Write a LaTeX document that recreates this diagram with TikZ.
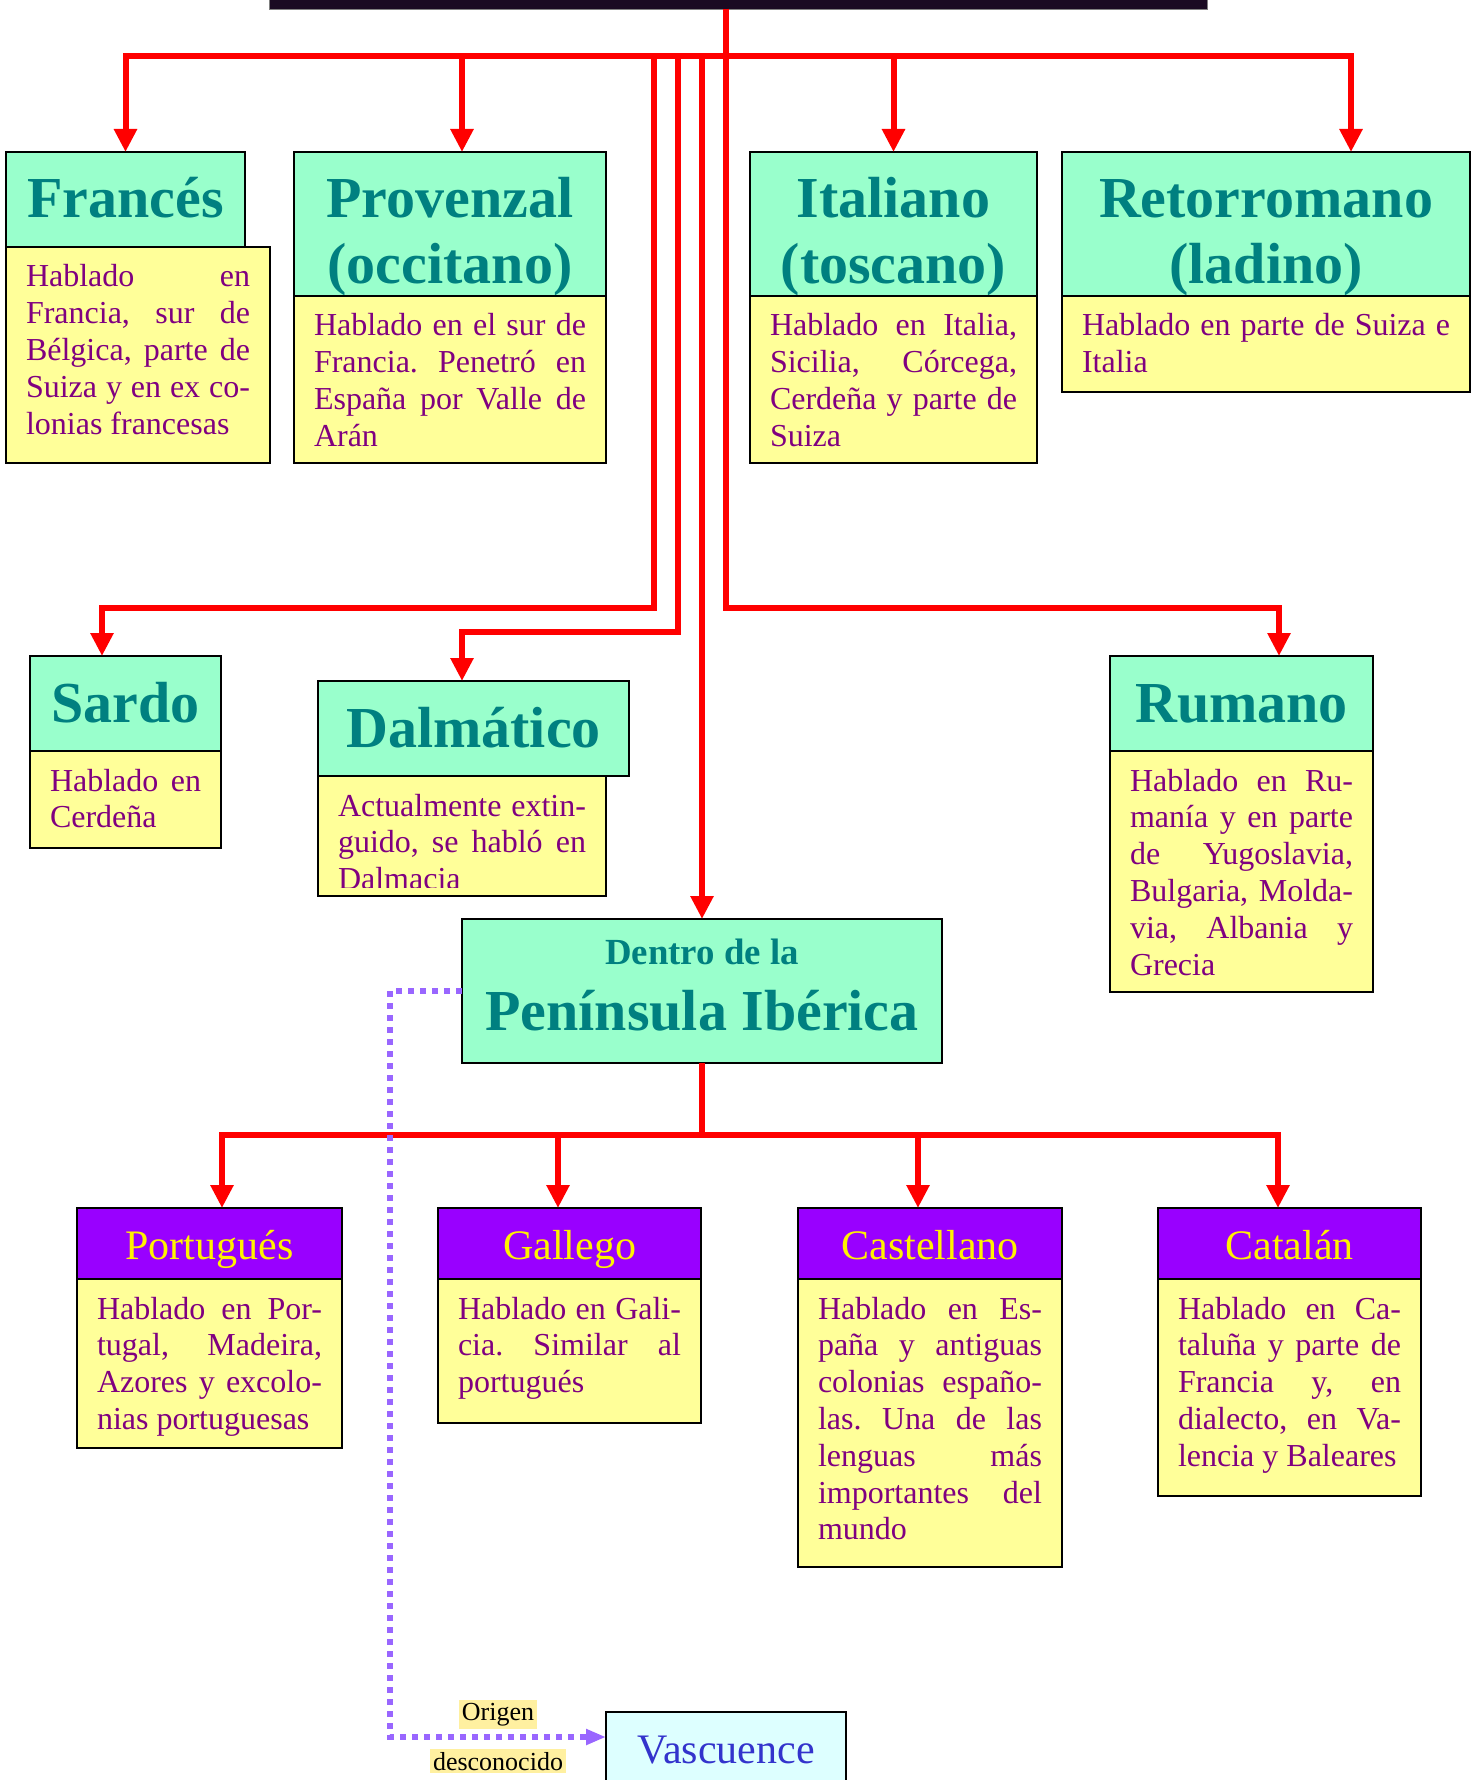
\documentclass[tikz,border=0pt]{standalone}
\usepackage{fontspec}
\setmainfont{Liberation Serif}
\usetikzlibrary{arrows.meta}
\frenchspacing

\definecolor{mint}{HTML}{99FFCC}
\definecolor{tealtext}{HTML}{008080}
\definecolor{paleyellow}{HTML}{FFFF99}
\definecolor{plum}{HTML}{800080}
\definecolor{ibviolet}{HTML}{9900FF}
\definecolor{basqueblue}{HTML}{3333CC}
\definecolor{basquefill}{HTML}{DDFFFF}
\definecolor{dotlilac}{HTML}{9966FF}
\definecolor{tagyellow}{HTML}{FFF0A0}
\definecolor{rootdark}{HTML}{1A0A22}

% box contents: width, height, text (top aligned)
\newcommand{\heading}[4][33pt]{\parbox[c][#3][t]{#2}{\centering\rule{0pt}{#1}#4}}
\newcommand{\blurb}[3]{\parbox[c][#2][t]{#1}{\tolerance=10000\hbadness=10000\hyphenpenalty=10000\rule{0pt}{20pt}#3}}

\begin{document}
\begin{tikzpicture}[x=0.5pt, y=-0.5pt,
    every node/.style={outer sep=0pt},
    rootbar/.style={draw=gray, fill=rootdark, minimum width=469pt, minimum height=50pt, inner sep=0pt},
    langhead/.style={draw, line width=1pt, fill=mint, text=tealtext, inner sep=0pt, anchor=north west, font=\fontsize{29}{33}\selectfont\bfseries},
    langnote/.style={draw, line width=1pt, fill=paleyellow, text=plum, inner xsep=10pt, inner ysep=0pt, anchor=north west, font=\fontsize{16}{18.4}\selectfont},
    ibhead/.style={draw, line width=1pt, fill=ibviolet, text=yellow, inner sep=0pt, text height=25.5pt, text depth=10pt, anchor=north west, font=\fontsize{21}{24}\selectfont},
    basque/.style={draw, line width=1pt, fill=basquefill, text=basqueblue, inner sep=0pt, minimum width=120pt, text height=25.5pt, text depth=10.5pt, anchor=north west, font=\fontsize{21}{24}\selectfont},
    redarrow/.style={draw=red, line width=3pt, -{Triangle[length=11.5pt,width=11pt]}},
    dotarrow/.style={draw=dotlilac, line width=3pt, dash pattern=on 3pt off 3pt, -{Triangle[length=10pt,width=7.5pt]}},
    origintag/.style={fill=tagyellow, text=black, inner sep=1.5pt, font=\fontsize{13}{15}\selectfont}]
    \useasboundingbox (0,0) rectangle (1479,1780);
    \clip (0,0) rectangle (1479,1780);

    \node [rootbar, anchor=south west] (root) at (269,9) {};

    % first row
    \node [langhead] (fr) at (6,152) {\heading{119.5pt}{47.5pt}{Francés}};
    \node [langnote] (fr-d) at (fr.south west) {\blurb{112pt}{108pt}{Hablado en\linebreak Francia, sur de\linebreak Bélgica, parte de\linebreak Suiza y en ex co-\linebreak lonias francesas}};
    \node [langhead] (pr) at (294,152) {\heading{156pt}{72pt}{Provenzal\\(occitano)}};
    \node [langnote] (pr-d) at (pr.south west) {\blurb{136pt}{83.5pt}{Hablado en el sur de\linebreak Francia. Penetró en\linebreak España por Valle de\linebreak Arán}};
    \node [langhead] (it) at (750,152) {\heading{143.5pt}{72pt}{Italiano\\(toscano)}};
    \node [langnote] (it-d) at (it.south west) {\blurb{123.5pt}{83.5pt}{Hablado en Italia,\linebreak Sicilia, Córcega,\linebreak Cerdeña y parte de\linebreak Suiza}};
    \node [langhead] (re) at (1062,152) {\heading{204pt}{72pt}{Retorromano\\(ladino)}};
    \node [langnote] (re-d) at (re.south west) {\blurb{184pt}{48pt}{Hablado en parte de Suiza e\linebreak Italia}};

    % second row
    \node [langhead] (sa) at (30,656) {\heading{95.5pt}{47.5pt}{Sardo}};
    \node [langnote] (sa-d) at (sa.south west) {\blurb{75.5pt}{48.5pt}{Hablado en\linebreak Cerdeña}};
    \node [langhead] (da) at (318,681) {\heading{155.5pt}{47.5pt}{Dalmático}};
    \node [langnote] (da-d) at (da.south west) {\blurb{124pt}{60pt}{}};
    \begin{scope}
        \clip (da-d.north west) rectangle ([yshift=4.5pt]da-d.south east);
        \node [langnote, draw=none, fill=none] (da-t) at (da-d.north west) {\blurb{124pt}{60pt}{Actualmente extin-\linebreak guido, se habló en\linebreak Dalmacia}};
    \end{scope}
    \node [langhead] (ru) at (1110,656) {\heading{131.5pt}{47.5pt}{Rumano}};
    \node [langnote] (ru-d) at (ru.south west) {\blurb{111.5pt}{120.5pt}{Hablado en Ru-\linebreak manía y en parte\linebreak de Yugoslavia,\linebreak Bulgaria, Molda-\linebreak via, Albania y\linebreak Grecia}};

    \node [langhead] (pe) at (462,919) {\heading[22.5pt]{240pt}{72pt}{{\fontsize{18.4}{20}\selectfont Dentro de la}\\Península Ibérica}};

    % Iberian languages
    \node [ibhead, minimum width=132.5pt] (po) at (77,1208) {Portugués};
    \node [langnote] (po-d) at (po.south west) {\blurb{112.5pt}{84.5pt}{Hablado en Por-\linebreak tugal, Madeira,\linebreak Azores y excolo-\linebreak nias portuguesas}};
    \node [ibhead, minimum width=131.5pt] (ga) at (438,1208) {Gallego};
    \node [langnote] (ga-d) at (ga.south west) {\blurb{111.5pt}{72pt}{Hablado en Gali-\linebreak cia. Similar al\linebreak portugués}};
    \node [ibhead, minimum width=132pt] (ca) at (798,1208) {Castellano};
    \node [langnote] (ca-d) at (ca.south west) {\blurb{112pt}{144pt}{Hablado en Es-\linebreak paña y antiguas\linebreak colonias españo-\linebreak las. Una de las\linebreak lenguas más\linebreak importantes del\linebreak mundo}};
    \node [ibhead, minimum width=131.5pt] (cat) at (1158,1208) {Catalán};
    \node [langnote] (cat-d) at (cat.south west) {\blurb{111.5pt}{108.5pt}{Hablado en Ca-\linebreak taluña y parte de\linebreak Francia y, en\linebreak dialecto, en Va-\linebreak lencia y Baleares}};

    \node [basque] (va) at (606,1712) {Vascuence};

    % connectors from the top
    \draw [redarrow] ([xshift=-6pt]root.south) -- ++(0,47) -| (fr.north);
    \draw [redarrow] ([xshift=-6pt]root.south) -- ++(0,47) -| ([xshift=6pt]pr.north);
    \draw [redarrow] ([xshift=-6pt]root.south) -- ++(0,47) -| (it.north);
    \draw [redarrow] ([xshift=-6pt]root.south) -- ++(0,47) -| ([xshift=42.5pt]re.north);
    \draw [redarrow] ([xshift=-6pt]root.south) -- ++(0,47) -- ++(-72,0) -- ++(0,552) -| ([xshift=-11.75pt]sa.north);
    \draw [redarrow] ([xshift=-6pt]root.south) -- ++(0,47) -- ++(-48,0) -- ++(0,576) -| ([xshift=-5.75pt]da.north);
    \draw [redarrow] ([xshift=-6pt]root.south) -- ++(0,47) -- ++(-24,0) -- (pe.north);
    \draw [redarrow] ([xshift=-6pt]root.south) -- ++(0,599) -| ([xshift=18.75pt]ru.north);

    % connectors from the peninsula
    \draw [redarrow] (pe.south) -- ++(0,72) -| ([xshift=6.25pt]po.north);
    \draw [redarrow] (pe.south) -- ++(0,72) -| ([xshift=-5.75pt]ga.north);
    \draw [redarrow] (pe.south) -- ++(0,72) -| ([xshift=-6pt]ca.north);
    \draw [redarrow] (pe.south) -- ++(0,72) -| ([xshift=-5.75pt]cat.north);

    \draw [dotarrow] (pe.west) -- ++(-72,0) |- ([yshift=-12.5pt]va.north west)
        node [origintag, pos=0.75, above=4pt] {Origen}
        node [origintag, pos=0.75, below=6pt] {desconocido};
\end{tikzpicture}
\end{document}
